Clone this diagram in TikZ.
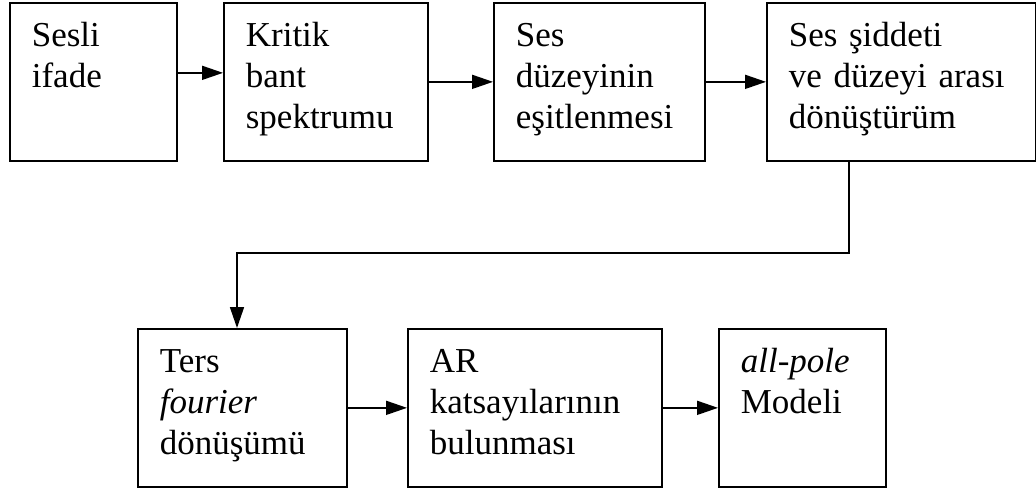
\documentclass[tikz,border=0pt]{standalone}
\usepackage{fontspec}
\setmainfont{Liberation Serif}
\usetikzlibrary{arrows.meta}
\begin{document}
\begin{tikzpicture}[x=1pt,y=1pt,
    blok/.style={draw, line width=1.7pt, anchor=north west, align=left,
      inner xsep=22pt, inner ysep=18pt, text height=26pt, text depth=96pt,
      font=\fontsize{35}{41}\selectfont},
    ok/.style={line width=1.7pt, -{Triangle[length=21pt,width=14pt]}}]
    \useasboundingbox (0,0) rectangle (1036,-489);
    \node[blok, text width=123pt] (sesli) at (9,-2) {Sesli\\ifade};
    \node[blok, text width=160pt] (kritik) at (223,-2) {Kritik\\bant\\spektrumu};
    \node[blok, text width=167pt] (esit) at (493,-2) {Ses\\düzeyinin\\eşitlenmesi};
    \node[blok, text width=225pt] (donus) at (766,-2) {Ses şiddeti\\ve düzeyi arası\\dönüştürüm};
    \node[blok, text width=165pt] (ters) at (137,-328) {Ters\\\textit{fourier}\\dönüşümü};
    \node[blok, text width=210pt] (ar) at (407,-328) {AR\\katsayılarının\\bulunması};
    \node[blok, text width=123pt] (model) at (718,-328) {\textit{all-pole}\\Modeli};
    \coordinate (k1) at (849,-253);
    \coordinate (k2) at (237,-253);
    \draw[ok] ([yshift=9pt]sesli.east) -- ([yshift=9pt]kritik.west);
    \draw[ok] (kritik) -- (esit);
    \draw[ok] (esit) -- (donus);
    \draw[ok] (donus.south -| k1) -- (k1) -- (k2) -- (k2 |- ters.north);
    \draw[ok] (ters) -- (ar);
    \draw[ok] (ar) -- (model);
\end{tikzpicture}
\end{document}
